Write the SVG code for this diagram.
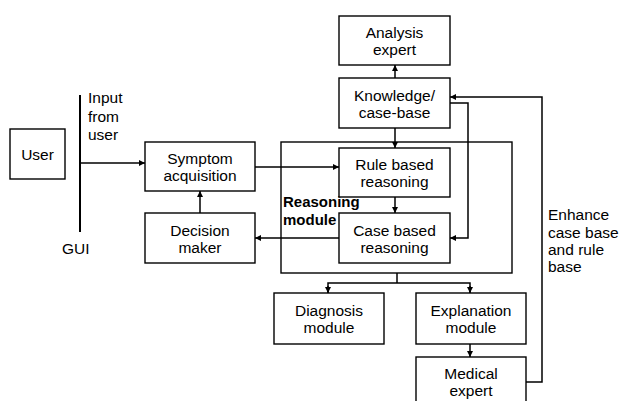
<svg xmlns="http://www.w3.org/2000/svg" width="620" height="401" viewBox="0 0 620 401">
<style>
.box{fill:#fff;stroke:#000;stroke-width:1.4}
.t{font-family:"Liberation Sans",Arial,sans-serif;font-size:15.5px;fill:#000}
.c{text-anchor:middle}
.b{font-weight:bold;font-size:15px}
.ln{fill:none;stroke:#000;stroke-width:1.5}
</style>
<defs>
<marker id="ah" markerUnits="userSpaceOnUse" markerWidth="7" markerHeight="7" refX="6" refY="3" orient="auto">
<path d="M0,0 L6,3 L0,6 z" fill="#000"/>
</marker>
</defs>
<rect width="620" height="401" fill="#fff"/>
<g id="reasoning-module">
<rect class="box" x="281" y="142" width="231" height="131"/>
<text class="t b" x="283" y="206.5">Reasoning</text>
<text class="t b" x="283" y="224.5">module</text>
</g>
<g id="connectors">
<line class="ln" x1="80" y1="95" x2="80" y2="232" style="stroke-width:2"/>
<line class="ln" x1="80" y1="163" x2="145" y2="163" marker-end="url(#ah)"/>
<line class="ln" x1="255" y1="167" x2="339" y2="167" marker-end="url(#ah)"/>
<line class="ln" x1="339" y1="238" x2="255" y2="238" marker-end="url(#ah)"/>
<line class="ln" x1="200" y1="213" x2="200" y2="191" marker-end="url(#ah)"/>
<line class="ln" x1="395" y1="197" x2="395" y2="213" marker-end="url(#ah)"/>
<line class="ln" x1="395" y1="78" x2="395" y2="65" marker-end="url(#ah)"/>
<line class="ln" x1="395" y1="128" x2="395" y2="148" marker-end="url(#ah)"/>
<polyline class="ln" points="450,103 468,103 468,238 450,238" marker-end="url(#ah)"/>
<line class="ln" x1="397" y1="273" x2="397" y2="283"/>
<polyline class="ln" points="328,293 328,283 470,283 470,293" />
<line class="ln" x1="328" y1="286" x2="328" y2="293" marker-end="url(#ah)"/>
<line class="ln" x1="470" y1="286" x2="470" y2="293" marker-end="url(#ah)"/>
<line class="ln" x1="470" y1="344" x2="470" y2="357" marker-end="url(#ah)"/>
<polyline class="ln" points="526,382 542,382 542,97 450,97" marker-end="url(#ah)"/>
</g>
<g id="user">
<rect class="box" x="10" y="129" width="55" height="50"/>
<text class="t c" x="37.5" y="159.5">User</text>
</g>
<g id="gui-labels">
<text class="t" x="88" y="103">Input</text>
<text class="t" x="88" y="121.5">from</text>
<text class="t" x="88" y="140">user</text>
<text class="t" x="62" y="254">GUI</text>
</g>
<g id="symptom-acquisition">
<rect class="box" x="145" y="142" width="110" height="49"/>
<text class="t c" x="200" y="164">Symptom</text>
<text class="t c" x="200" y="181">acquisition</text>
</g>
<g id="decision-maker">
<rect class="box" x="145" y="213" width="110" height="50"/>
<text class="t c" x="200" y="235.5">Decision</text>
<text class="t c" x="200" y="252.5">maker</text>
</g>
<g id="analysis-expert">
<rect class="box" x="339" y="16" width="111" height="49"/>
<text class="t c" x="394.5" y="38">Analysis</text>
<text class="t c" x="394.5" y="55">expert</text>
</g>
<g id="knowledge">
<rect class="box" x="339" y="78" width="111" height="50"/>
<text class="t c" x="394.5" y="100.5">Knowledge/</text>
<text class="t c" x="394.5" y="117.5">case-base</text>
</g>
<g id="rule-based">
<rect class="box" x="339" y="148" width="111" height="49"/>
<text class="t c" x="394.5" y="170">Rule based</text>
<text class="t c" x="394.5" y="187">reasoning</text>
</g>
<g id="case-based">
<rect class="box" x="339" y="213" width="111" height="50"/>
<text class="t c" x="394.5" y="235.5">Case based</text>
<text class="t c" x="394.5" y="252.5">reasoning</text>
</g>
<g id="diagnosis-module">
<rect class="box" x="274" y="293" width="110" height="51"/>
<text class="t c" x="329" y="316">Diagnosis</text>
<text class="t c" x="329" y="333">module</text>
</g>
<g id="explanation-module">
<rect class="box" x="416" y="293" width="110" height="51"/>
<text class="t c" x="471" y="316">Explanation</text>
<text class="t c" x="471" y="333">module</text>
</g>
<g id="medical-expert">
<rect class="box" x="416" y="357" width="110" height="50"/>
<text class="t c" x="471" y="379">Medical</text>
<text class="t c" x="471" y="396">expert</text>
</g>
<g id="enhance-label">
<text class="t" x="548" y="220">Enhance</text>
<text class="t" x="548" y="237.5">case base</text>
<text class="t" x="548" y="254.5">and rule</text>
<text class="t" x="548" y="271.5">base</text>
</g>
</svg>
